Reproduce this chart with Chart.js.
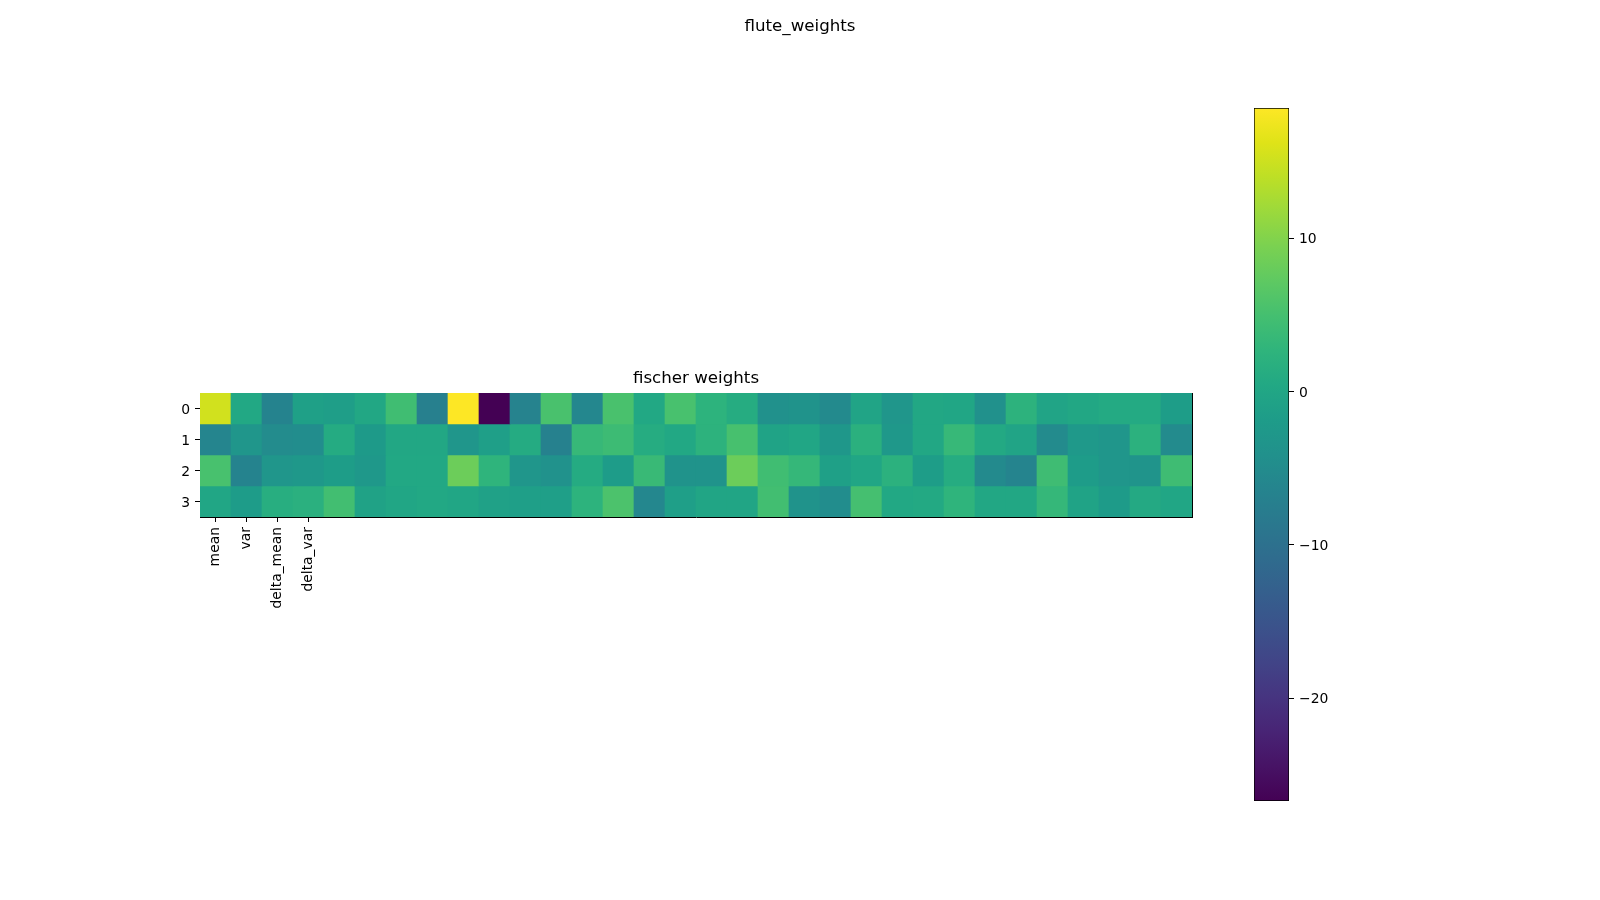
<!DOCTYPE html>
<html>
<head>
<meta charset="utf-8">
<script src="https://cdn.jsdelivr.net/npm/chart.js@4.4.1/dist/chart.umd.min.js"></script>
<style>
  html, body { margin: 0; padding: 0; background: #fff; }
  #wrap { position: relative; width: 1600px; height: 900px; }
  canvas { position: absolute; top: 0; }
</style>
</head>
<body>
<div id="wrap">
  <canvas id="heat" width="1600" height="900" style="left:0"></canvas>
  <canvas id="cbar" width="200" height="900" style="left:1200px"></canvas>
</div>
<script>
// fischer weights, one array per row of the image (32 columns each)
const row0 = [15.3, 0.5, -6.5, -1.0, -1.5, 0.3, 4.5, -7.2, 18.5, -26.7, -6.6, 5.4, -5.9, 5.4, 0.5, 5.3,
              2.4, 1.2, -4.0, -3.6, -5.4, -0.4, -3.0, 0.3, 0.0, -4.0, 2.3, -0.4, 0.3, 0.8, 0.8, -1.6];
const row1 = [-6.2, -3.0, -5.0, -4.8, 1.0, -2.2, 0.2, 0.2, -3.0, -1.3, 1.0, -7.0, 3.5, 4.2, 1.2, 0.4,
              2.3, 5.2, -0.5, 0.0, -2.8, 2.0, -2.6, 0.3, 3.5, 0.6, -0.3, -5.2, -2.5, -3.0, 2.1, -5.2];
const row2 = [5.3, -6.5, -3.1, -2.7, -1.6, -2.7, 0.5, 0.5, 8.3, 2.7, -3.0, -3.9, 1.0, -1.8, 3.8, -3.7,
              -3.7, 8.3, 4.5, 3.3, -1.0, 0.0, 2.2, -1.6, 1.2, -5.3, -6.3, 4.4, -1.8, -3.0, -3.4, 4.4];
const row3 = [0.0, -1.8, 1.5, 1.9, 4.7, -0.7, 0.0, 0.4, 0.0, -0.9, -1.3, -1.2, 2.4, 5.6, -5.8, -1.2,
              -0.1, -0.1, 4.7, -3.7, -4.8, 5.0, 0.4, 0.6, 2.6, 0.3, 0.2, 3.3, -0.6, -2.0, 0.7, 0.0];
const rows = [row0, row1, row2, row3];

const featureLabels = ['mean', 'var', 'delta_mean', 'delta_var'];
const rowTicks = [0, 1, 2, 3];
const colorbarTicks = [-20, -10, 0, 10];

// viridis stops, every 0.05
const viridis = ['#440154', '#471365', '#482475', '#463480', '#414487', '#3b528b', '#355f8d',
  '#2f6c8e', '#2a788e', '#25848e', '#21918c', '#1e9c89', '#22a884', '#2fb47c', '#44bf70',
  '#5ec962', '#7ad151', '#9bd93c', '#bddf26', '#dfe318', '#fde725'];

const vmin = Math.min(...rows.flat());
const vmax = Math.max(...rows.flat());

function hexRgb(h) {
  return [1, 3, 5].map(i => parseInt(h.substr(i, 2), 16));
}

function colorFor(v) {
  let t = (v - vmin) / (vmax - vmin);
  t = Math.max(0, Math.min(1, t));
  const pos = t * (viridis.length - 1);
  const i = Math.min(Math.floor(pos), viridis.length - 2);
  const f = pos - i;
  const a = hexRgb(viridis[i]), b = hexRgb(viridis[i + 1]);
  const c = a.map((x, k) => Math.round(x + (b[k] - x) * f));
  return 'rgb(' + c.join(',') + ')';
}

Chart.defaults.font.family = 'DejaVu Sans';
Chart.defaults.color = '#000';

const tickFont = { size: 13.9 };
const titleFont = { size: 16.67, weight: 'normal', lineHeight: 1.2 };

const heatData = {
  datasets: rows.map((vals, r) => ({
    label: 'row ' + r,
    data: vals.map((v, c) => ({ x: c, y: [r - 0.5, r + 0.5] })),
    backgroundColor: vals.map(v => colorFor(v)),
    borderWidth: 0,
    barPercentage: 1,
    categoryPercentage: 1,
    grouped: false,
  })),
};

new Chart(document.getElementById('heat'), {
  type: 'bar',
  data: heatData,
  options: {
    responsive: false,
    animation: false,
    layout: { padding: { left: 0, right: 0, top: 0, bottom: 283 } },
    plugins: {
      legend: { display: false },
      tooltip: { enabled: false },
      title: {
        display: true,
        text: 'flute_weights',
        font: titleFont,
        padding: { top: 17, bottom: 332 },
      },
      subtitle: {
        display: true,
        text: 'fischer weights',
        fullSize: false,
        color: '#000',
        font: titleFont,
        padding: { top: 0, bottom: 4 },
      },
    },
    scales: {
      x: {
        type: 'linear',
        position: 'bottom',
        min: -0.5,
        max: 31.5,
        offset: false,
        afterBuildTicks: (scale) => { scale.ticks = featureLabels.map((_, i) => ({ value: i })); },
        afterFit: (scale) => { scale.height = 100; },
        ticks: {
          font: tickFont,
          padding: 5,
          minRotation: 90,
          maxRotation: 90,
          autoSkip: false,
          callback: (value) => featureLabels[value],
        },
        grid: { offset: false, drawOnChartArea: false, tickLength: 5, tickColor: '#000', tickWidth: 1 },
        border: { display: true, color: '#000', width: 1 },
      },
      xTop: {
        type: 'linear',
        position: 'top',
        afterFit: (scale) => { scale.height = 0; },
        ticks: { display: false },
        grid: { display: false },
        border: { display: true, color: '#000', width: 1 },
      },
      y: {
        type: 'linear',
        position: 'left',
        min: -0.5,
        max: 3.5,
        reverse: true,
        afterBuildTicks: (scale) => { scale.ticks = rowTicks.map(v => ({ value: v })); },
        afterFit: (scale) => { scale.width = 200; },
        ticks: { font: tickFont, padding: 5, labelOffset: 1.5 },
        grid: { offset: false, drawOnChartArea: false, tickLength: 5, tickColor: '#000', tickWidth: 1 },
        border: { display: true, color: '#000', width: 1 },
      },
      yRight: {
        type: 'linear',
        position: 'right',
        afterFit: (scale) => { scale.width = 408; },
        ticks: { display: false },
        grid: { display: false },
        border: { display: true, color: '#000', width: 1 },
      },
    },
  },
});

// colorbar: one floating bar spanning the data range, filled with the colormap
new Chart(document.getElementById('cbar'), {
  type: 'bar',
  data: {
    labels: [''],
    datasets: [{
      data: [[vmin, vmax]],
      backgroundColor: (ctx) => {
        const area = ctx.chart.chartArea;
        if (!area) return viridis[10];
        const g = ctx.chart.ctx.createLinearGradient(0, area.bottom, 0, area.top);
        viridis.forEach((c, i) => g.addColorStop(i / (viridis.length - 1), c));
        return g;
      },
      borderColor: '#000',
      borderWidth: 1,
      borderSkipped: false,
      barPercentage: 1,
      categoryPercentage: 1,
    }],
  },
  options: {
    responsive: false,
    animation: false,
    layout: { padding: { left: 54, right: 51, top: 108, bottom: 99 } },
    plugins: { legend: { display: false }, tooltip: { enabled: false } },
    scales: {
      x: { display: false },
      y: {
        type: 'linear',
        position: 'right',
        min: vmin,
        max: vmax,
        afterBuildTicks: (scale) => { scale.ticks = colorbarTicks.map(v => ({ value: v })); },
        afterFit: (scale) => { scale.width = 60; },
        ticks: {
          font: tickFont,
          padding: 5,
          labelOffset: 1.5,
          callback: (v) => (v < 0 ? '\u2212' + Math.abs(v) : String(v)),
        },
        grid: { drawOnChartArea: false, tickLength: 5, tickColor: '#000', tickWidth: 1 },
        border: { display: false },
      },
    },
  },
});
</script>
</body>
</html>
